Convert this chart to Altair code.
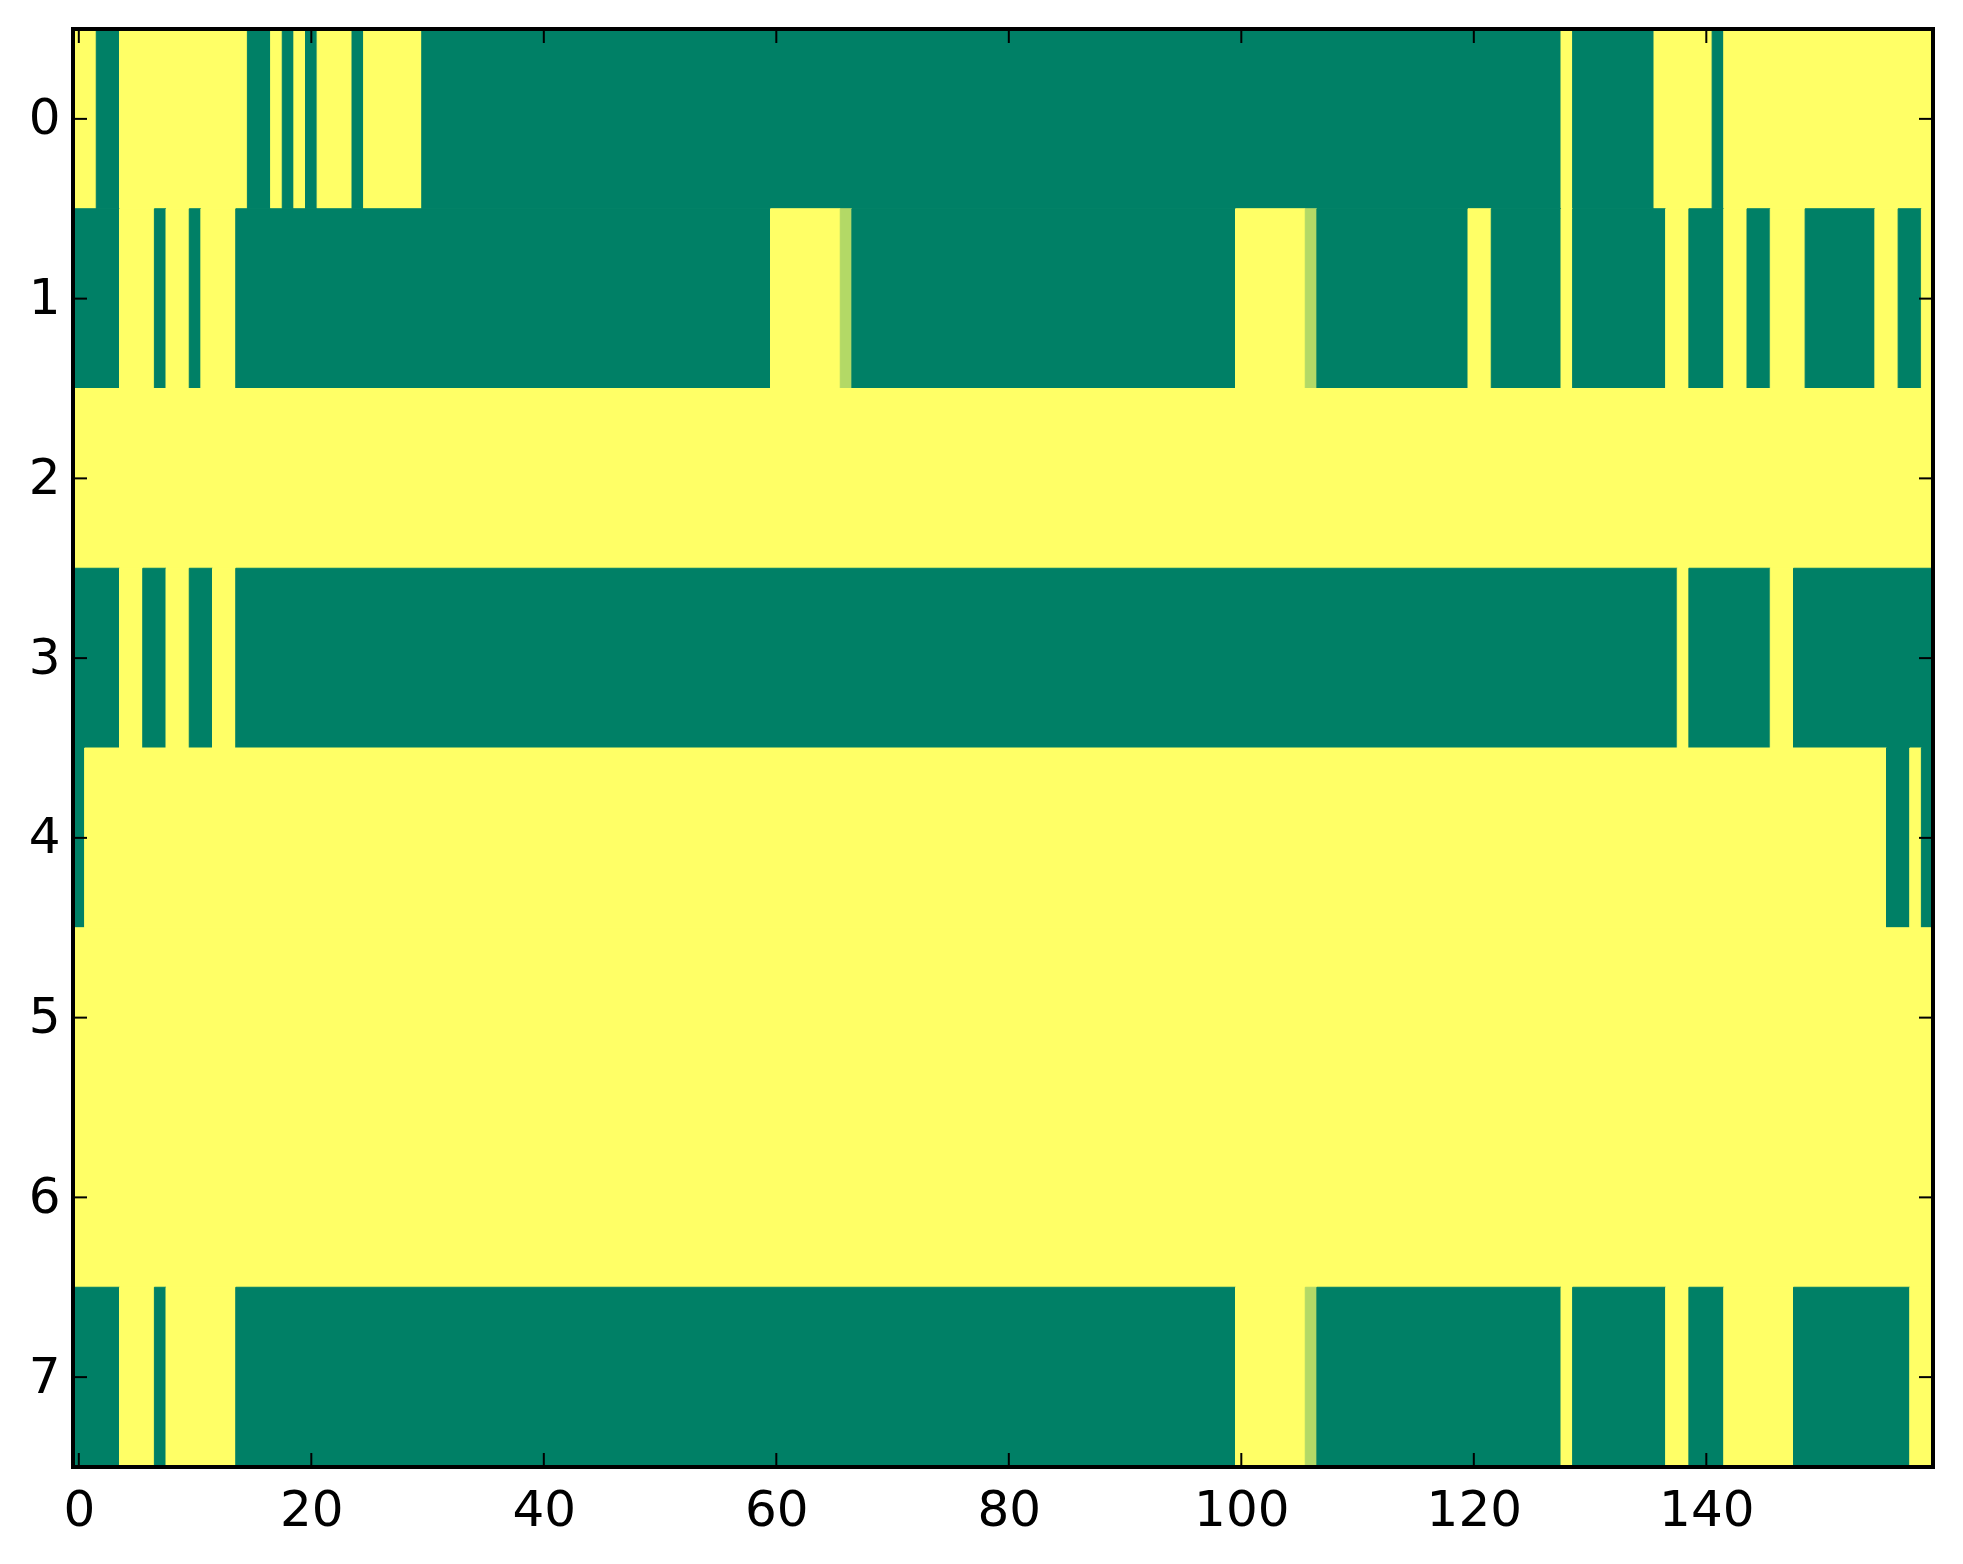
import altair as alt
import pandas as pd

# cell values (summer colormap: 0 = green, 1 = yellow)
Y, G, L = 1.0, 0.0, 0.7

# run-length encoded rows: (value, number of columns)
row0 = [(Y, 2), (G, 2), (Y, 11), (G, 2), (Y, 1), (G, 1), (Y, 1), (G, 1), (Y, 3), (G, 1),
        (Y, 5), (G, 98), (Y, 1), (G, 7), (Y, 5), (G, 1), (Y, 18)]
row1 = [(G, 4), (Y, 3), (G, 1), (Y, 2), (G, 1), (Y, 3), (G, 46), (Y, 6), (L, 1), (G, 33),
        (Y, 6), (L, 1), (G, 13), (Y, 2), (G, 6), (Y, 1), (G, 8), (Y, 2), (G, 3), (Y, 2),
        (G, 2), (Y, 3), (G, 6), (Y, 2), (G, 2), (Y, 1)]
row2 = [(Y, 160)]
row3 = [(G, 4), (Y, 2), (G, 2), (Y, 2), (G, 2), (Y, 2), (G, 124), (Y, 1), (G, 7), (Y, 2), (G, 12)]
row4 = [(G, 1), (Y, 155), (G, 2), (Y, 1), (G, 1)]
row5 = [(Y, 160)]
row6 = [(Y, 160)]
row7 = [(G, 4), (Y, 3), (G, 1), (Y, 6), (G, 86), (Y, 6), (L, 1), (G, 21), (Y, 1), (G, 8),
        (Y, 2), (G, 3), (Y, 6), (G, 10), (Y, 2)]
rows = [row0, row1, row2, row3, row4, row5, row6, row7]

x_ticks = [0, 20, 40, 60, 80, 100, 120, 140]
y_ticks = [0, 1, 2, 3, 4, 5, 6, 7]
n_cols = 160

records = []
for r, runs in enumerate(rows):
    start = 0
    for v, n in runs:
        records.append({"x0": start - 0.5, "x1": start + n - 0.5,
                        "y0": r - 0.5, "y1": r + 0.5, "value": v})
        start += n
df = pd.DataFrame(records)

W, H = 1860, 1438
TICK = 14
FONT = "DejaVu Sans"
FS = 50

xscale = alt.Scale(domain=[-0.5, n_cols - 0.5], nice=False, zero=False)
yscale = alt.Scale(domain=[-0.5, len(rows) - 0.5], nice=False, zero=False, reverse=True)
cscale = alt.Scale(domain=[0, 1], range=["#008066", "#ffff66"], interpolate="rgb")

xaxis = alt.Axis(values=x_ticks, title="", ticks=False, tickSize=0, domain=False, grid=False,
                 labelFont=FONT, labelFontSize=FS, labelColor="black", labelPadding=18,
                 format="d", labelFlush=False, labelOverlap=False)
yaxis = alt.Axis(values=y_ticks, title="", ticks=False, tickSize=0, domain=False, grid=False,
                 labelFont=FONT, labelFontSize=FS, labelColor="black", labelPadding=13,
                 format="d", labelFlush=False, labelOverlap=False)

heat = alt.Chart(df).mark_rect(strokeWidth=1).encode(
    x=alt.X("x0:Q", scale=xscale, axis=xaxis),
    x2="x1",
    y=alt.Y("y0:Q", scale=yscale, axis=yaxis),
    y2="y1",
    fill=alt.Fill("value:Q", scale=cscale, legend=None),
    stroke=alt.Stroke("value:Q", scale=cscale, legend=None),
)

xt = pd.DataFrame({"t": x_ticks})
yt = pd.DataFrame({"t": y_ticks})

xb = alt.Chart(xt).mark_rule(color="black", strokeWidth=2).encode(
    x=alt.X("t:Q", scale=xscale, axis=xaxis), y=alt.value(H), y2=alt.value(H - TICK))
xtp = alt.Chart(xt).mark_rule(color="black", strokeWidth=2).encode(
    x=alt.X("t:Q", scale=xscale, axis=xaxis), y=alt.value(0), y2=alt.value(TICK))
yl = alt.Chart(yt).mark_rule(color="black", strokeWidth=2).encode(
    y=alt.Y("t:Q", scale=yscale, axis=yaxis), x=alt.value(0), x2=alt.value(TICK))
yr = alt.Chart(yt).mark_rule(color="black", strokeWidth=2).encode(
    y=alt.Y("t:Q", scale=yscale, axis=yaxis), x=alt.value(W), x2=alt.value(W - TICK))

frame = alt.Chart(pd.DataFrame({"a": [0]})).mark_rect(
    fillOpacity=0, stroke="black", strokeWidth=4).encode(
    x=alt.value(0), x2=alt.value(W), y=alt.value(0), y2=alt.value(H))

chart = alt.layer(heat, xb, xtp, yl, yr, frame).properties(
    width=W, height=H,
    padding={"left": 65, "top": 21, "right": 22, "bottom": 80},
    autosize="none",
).configure_view(strokeWidth=0)

chart.save("out.html", embed_options={"renderer": "svg", "actions": False})
